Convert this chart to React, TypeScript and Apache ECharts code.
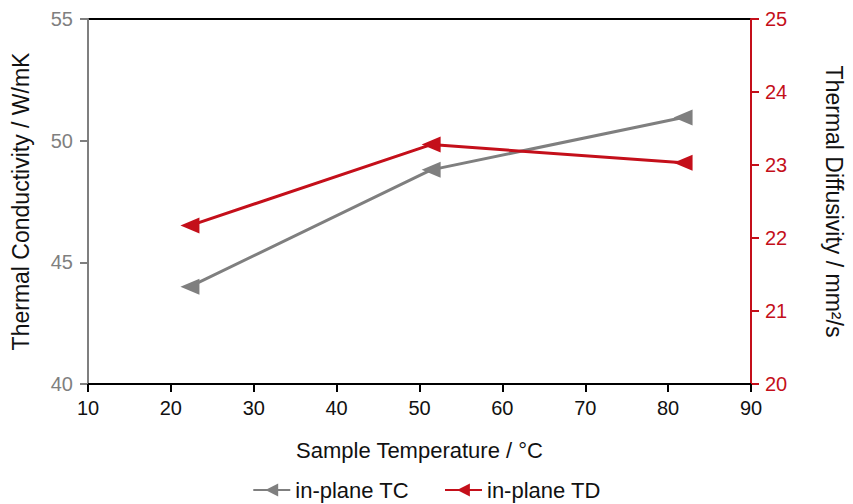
import React, { useEffect, useRef } from "react";
import * as echarts from "echarts";

const temperatures = [22.3, 51.4, 81.8];
const tcValues = [44.0, 48.8, 50.95];
const tdValues = [22.17, 23.28, 23.03];
const legendNames = ["in-plane TC", "in-plane TD"];

const GRAY = "#7f7f7f";
const RED = "#c40f1a";
const FONT = "Liberation Sans, Arial, sans-serif";

export default function App() {
  const ref = useRef<HTMLDivElement>(null);
  useEffect(() => {
    const chart = echarts.init(ref.current!, null, { renderer: "svg" });
    chart.setOption({
      animation: false,
      textStyle: { fontFamily: FONT },
      grid: {
        left: 88,
        right: 98,
        top: 19,
        bottom: 120,
        show: true,
        borderColor: "#000",
        borderWidth: 2,
        backgroundColor: "transparent",
      },
      legend: {
        top: 479,
        left: "center",
        padding: 0,
        itemWidth: 37,
        itemHeight: 16,
        itemGap: 35,
        textStyle: { fontSize: 22, color: "#111", fontFamily: FONT },
        data: legendNames,
      },
      xAxis: {
        type: "value",
        min: 10,
        max: 90,
        interval: 10,
        name: "Sample Temperature / °C",
        nameLocation: "middle",
        nameGap: 55,
        nameTextStyle: { fontSize: 22, color: "#111", fontFamily: FONT },
        axisLine: { show: true, lineStyle: { color: "#000", width: 2 } },
        axisTick: { show: true, length: 8, lineStyle: { color: "#000", width: 2 } },
        axisLabel: { fontSize: 20, color: "#111", margin: 14, fontFamily: FONT },
        splitLine: { show: false },
      },
      yAxis: [
        {
          type: "value",
          position: "left",
          min: 40,
          max: 55,
          interval: 5,
          name: "Thermal Conductivity / W/mK",
          nameLocation: "middle",
          nameRotate: 90,
          nameGap: 56,
          nameTextStyle: { fontSize: 23, color: "#111", fontFamily: FONT },
          axisLine: { show: true, lineStyle: { color: GRAY, width: 2 } },
          axisTick: { show: true, length: 8, lineStyle: { color: GRAY, width: 2 } },
          axisLabel: { fontSize: 20, color: GRAY, margin: 15, fontFamily: FONT },
          splitLine: { show: false },
        },
        {
          type: "value",
          position: "right",
          min: 20,
          max: 25,
          interval: 1,
          name: "Thermal Diffusivity / mm²/s",
          nameLocation: "middle",
          nameRotate: -90,
          nameGap: 71,
          nameTextStyle: { fontSize: 23, color: "#111", fontFamily: FONT },
          axisLine: { show: true, lineStyle: { color: RED, width: 2 } },
          axisTick: { show: true, length: 8, lineStyle: { color: RED, width: 2 } },
          axisLabel: { fontSize: 20, color: RED, margin: 14, fontFamily: FONT },
          splitLine: { show: false },
        },
      ],
      series: [
        {
          name: legendNames[0],
          type: "line",
          yAxisIndex: 0,
          data: temperatures.map((t, i) => [t, tcValues[i]]),
          symbol: "triangle",
          symbolRotate: 90,
          symbolSize: [16, 19],
          lineStyle: { color: GRAY, width: 3 },
          itemStyle: { color: GRAY },
        },
        {
          name: legendNames[1],
          type: "line",
          yAxisIndex: 1,
          data: temperatures.map((t, i) => [t, tdValues[i]]),
          symbol: "triangle",
          symbolRotate: 90,
          symbolSize: [16, 19],
          lineStyle: { color: RED, width: 3 },
          itemStyle: { color: RED },
        },
      ],
    });
    return () => chart.dispose();
  }, []);
  return (
    <div
      ref={ref}
      style={{ position: "absolute", left: 0, top: 0, width: 853, height: 504 }}
    />
  );
}
